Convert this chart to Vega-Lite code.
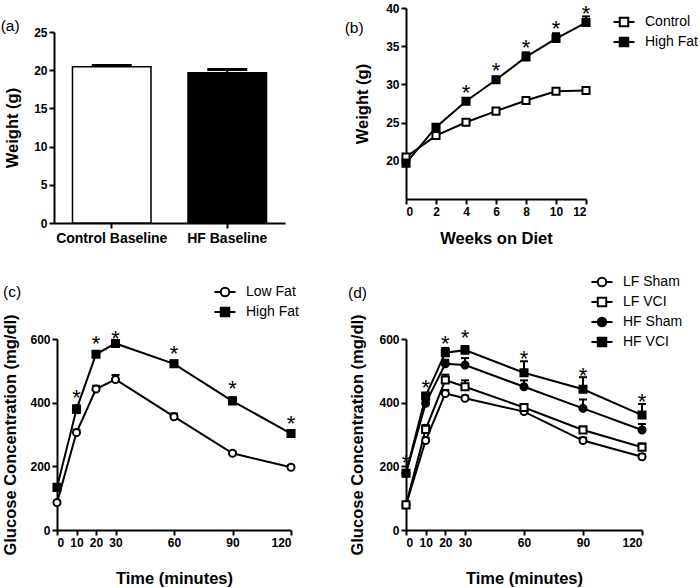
{
  "$schema": "https://vega.github.io/schema/vega-lite/v6.json",
  "background": "white",
  "padding": {"left": 0, "top": 2, "right": 0, "bottom": 0},
  "bounds": "flush",
  "spacing": 349,
  "resolve": {"scale": {"fill": "independent", "shape": "independent", "x": "independent", "y": "independent"}, "legend": {"fill": "independent", "shape": "independent"}},
  "config": {
    "view": {"stroke": null},
    "font": "Liberation Sans",
    "axis": {"domainColor": "black", "domainWidth": 2, "tickColor": "black", "tickWidth": 2, "tickSize": 5, "labelFont": "Liberation Sans", "labelFontSize": 12, "labelFontWeight": "bold", "labelColor": "black", "titleFont": "Liberation Sans", "titleFontSize": 16.5, "titleFontWeight": "bold", "titleColor": "black", "grid": false, "labelPadding": 2},
    "legend": {"labelFont": "Liberation Sans", "labelFontSize": 14, "labelColor": "black", "symbolStrokeColor": "black", "symbolStrokeWidth": 2, "symbolSize": 100, "labelOffset": 14, "rowPadding": 2, "padding": 0, "orient": "none"},
    "title": {"font": "Liberation Sans", "fontSize": 15.5, "fontWeight": "normal", "color": "black", "anchor": "start", "frame": "bounds"}
  },
  "datasets": {
    "bars": [
      {"group": "Control Baseline", "weight": 20.45, "upper": 20.6},
      {"group": "HF Baseline", "weight": 19.65, "upper": 20.1}
    ],
    "weights": [
      {"week": 0, "series": "Control", "weight": 20.5, "upper": 20.7},
      {"week": 2, "series": "Control", "weight": 23.3, "upper": 23.5},
      {"week": 4, "series": "Control", "weight": 25.05, "upper": 25.3},
      {"week": 6, "series": "Control", "weight": 26.5, "upper": 26.7},
      {"week": 8, "series": "Control", "weight": 27.9, "upper": 28.1},
      {"week": 10, "series": "Control", "weight": 29.1, "upper": 29.3},
      {"week": 12, "series": "Control", "weight": 29.2, "upper": 29.4},
      {"week": 0, "series": "High Fat", "weight": 19.7, "upper": 20.0},
      {"week": 2, "series": "High Fat", "weight": 24.4, "upper": 24.8},
      {"week": 4, "series": "High Fat", "weight": 27.8, "upper": 28.2},
      {"week": 6, "series": "High Fat", "weight": 30.6, "upper": 31.0},
      {"week": 8, "series": "High Fat", "weight": 33.6, "upper": 34.2},
      {"week": 10, "series": "High Fat", "weight": 36.0, "upper": 36.7},
      {"week": 12, "series": "High Fat", "weight": 38.1, "upper": 38.9}
    ],
    "starsB": [
      {"week": 4, "y": 29.6}, {"week": 6, "y": 32.5}, {"week": 8, "y": 35.6}, {"week": 10, "y": 38.0}, {"week": 12, "y": 40.0}
    ],
    "gttC": [
      {"time": 0, "series": "Low Fat", "glucose": 86, "upper": 92},
      {"time": 10, "series": "Low Fat", "glucose": 306, "upper": 315},
      {"time": 20, "series": "Low Fat", "glucose": 443, "upper": 453},
      {"time": 30, "series": "Low Fat", "glucose": 473, "upper": 487},
      {"time": 60, "series": "Low Fat", "glucose": 356, "upper": 366},
      {"time": 90, "series": "Low Fat", "glucose": 241, "upper": 247},
      {"time": 120, "series": "Low Fat", "glucose": 197, "upper": 203},
      {"time": 0, "series": "High Fat", "glucose": 134, "upper": 140},
      {"time": 10, "series": "High Fat", "glucose": 379, "upper": 392},
      {"time": 20, "series": "High Fat", "glucose": 552, "upper": 562},
      {"time": 30, "series": "High Fat", "glucose": 586, "upper": 594},
      {"time": 60, "series": "High Fat", "glucose": 522, "upper": 532},
      {"time": 90, "series": "High Fat", "glucose": 405, "upper": 417},
      {"time": 120, "series": "High Fat", "glucose": 303, "upper": 310}
    ],
    "starsC": [
      {"time": 10, "y": 435}, {"time": 20, "y": 602}, {"time": 30, "y": 620}, {"time": 60, "y": 571}, {"time": 90, "y": 461}, {"time": 120, "y": 351}
    ],
    "gttD": [
      {"time": 0, "series": "LF Sham", "glucose": 79, "upper": 84},
      {"time": 10, "series": "LF Sham", "glucose": 281, "upper": 290},
      {"time": 20, "series": "LF Sham", "glucose": 429, "upper": 440},
      {"time": 30, "series": "LF Sham", "glucose": 414, "upper": 422},
      {"time": 60, "series": "LF Sham", "glucose": 372, "upper": 380},
      {"time": 90, "series": "LF Sham", "glucose": 281, "upper": 290},
      {"time": 120, "series": "LF Sham", "glucose": 230, "upper": 238},
      {"time": 0, "series": "LF VCI", "glucose": 79, "upper": 86},
      {"time": 10, "series": "LF VCI", "glucose": 316, "upper": 330},
      {"time": 20, "series": "LF VCI", "glucose": 471, "upper": 488},
      {"time": 30, "series": "LF VCI", "glucose": 450, "upper": 470},
      {"time": 60, "series": "LF VCI", "glucose": 385, "upper": 393},
      {"time": 90, "series": "LF VCI", "glucose": 314, "upper": 325},
      {"time": 120, "series": "LF VCI", "glucose": 260, "upper": 272},
      {"time": 0, "series": "HF Sham", "glucose": 178, "upper": 188},
      {"time": 10, "series": "HF Sham", "glucose": 398, "upper": 410},
      {"time": 20, "series": "HF Sham", "glucose": 522, "upper": 535},
      {"time": 30, "series": "HF Sham", "glucose": 518, "upper": 540},
      {"time": 60, "series": "HF Sham", "glucose": 450, "upper": 470},
      {"time": 90, "series": "HF Sham", "glucose": 382, "upper": 410},
      {"time": 120, "series": "HF Sham", "glucose": 314, "upper": 333},
      {"time": 0, "series": "HF VCI", "glucose": 178, "upper": 188},
      {"time": 10, "series": "HF VCI", "glucose": 421, "upper": 430},
      {"time": 20, "series": "HF VCI", "glucose": 557, "upper": 572},
      {"time": 30, "series": "HF VCI", "glucose": 565, "upper": 578},
      {"time": 60, "series": "HF VCI", "glucose": 494, "upper": 530},
      {"time": 90, "series": "HF VCI", "glucose": 442, "upper": 480},
      {"time": 120, "series": "HF VCI", "glucose": 361, "upper": 396}
    ],
    "starsD": [
      {"time": 0, "y": 230}, {"time": 10, "y": 466}, {"time": 20, "y": 602}, {"time": 30, "y": 623}, {"time": 60, "y": 555}, {"time": 90, "y": 503}, {"time": 120, "y": 421}
    ]
  },
  "hconcat": [
    {
      "bounds": "flush",
      "spacing": 116,
      "resolve": {"scale": {"fill": "independent", "shape": "independent", "x": "independent", "y": "independent"}, "legend": {"fill": "independent", "shape": "independent"}},
      "vconcat": [
        {
          "title": {"text": "(a)", "offset": -26, "dx": -4},
          "width": 231,
          "height": 215,
          "data": {"name": "bars"},
          "encoding": {
            "x": {"field": "group", "type": "nominal", "sort": null, "scale": {"paddingInner": 0.32, "paddingOuter": 0.16, "range": [-3, 228]}, "axis": {"title": null, "labelAngle": 0, "labelFontSize": 14, "labelPadding": 3}}
          },
          "layer": [
            {
              "mark": {"type": "bar", "stroke": "black", "strokeWidth": 1.5},
              "encoding": {
                "y": {"field": "weight", "type": "quantitative", "scale": {"domain": [0, 25], "range": [215, 24], "nice": false, "zero": true}, "axis": {"title": "Weight (g)", "values": [0, 5, 10, 15, 20, 25], "titlePadding": 13, "offset": 3}},
                "fill": {"field": "group", "type": "nominal", "scale": {"domain": ["Control Baseline", "HF Baseline"], "range": ["white", "black"]}, "legend": null}
              }
            },
            {
              "mark": {"type": "rule", "color": "black", "strokeWidth": 2},
              "encoding": {"y": {"field": "weight", "type": "quantitative"}, "y2": {"field": "upper"}}
            },
            {
              "mark": {"type": "tick", "orient": "horizontal", "color": "black", "size": 40, "thickness": 3, "opacity": 1},
              "encoding": {"y": {"field": "upper", "type": "quantitative"}}
            }
          ]
        },
        {
          "title": {"text": "(c)", "offset": -15, "dx": 0},
          "width": 234,
          "height": 191,
          "data": {"name": "gttC"},
          "encoding": {
            "x": {"field": "time", "type": "quantitative", "scale": {"domain": [0, 120], "nice": false}, "axis": {"title": "Time (minutes)", "values": [0, 10, 20, 30, 60, 90, 120], "titlePadding": 22}}
          },
          "layer": [
            {
              "mark": {"type": "rule", "color": "black", "strokeWidth": 2},
              "encoding": {"y": {"field": "glucose", "type": "quantitative", "scale": {"domain": [0, 600], "nice": false}, "axis": {"title": "Glucose Concentration (mg/dl)", "values": [0, 200, 400, 600], "titlePadding": 11}}, "y2": {"field": "upper"}}
            },
            {
              "mark": {"type": "tick", "orient": "horizontal", "color": "black", "size": 8, "thickness": 2, "opacity": 1},
              "encoding": {"y": {"field": "upper", "type": "quantitative"}}
            },
            {
              "mark": {"type": "line", "color": "black", "strokeWidth": 2},
              "encoding": {"y": {"field": "glucose", "type": "quantitative"}, "detail": {"field": "series"}}
            },
            {
              "transform": [{"filter": {"field": "series", "oneOf": ["Low Fat"]}}],
              "mark": {"type": "point", "shape": "circle", "filled": true, "stroke": "black", "strokeWidth": 2, "size": 50, "opacity": 1},
              "encoding": {
                "y": {"field": "glucose", "type": "quantitative"},
                "fill": {"field": "series", "type": "nominal", "scale": {"domain": ["Low Fat", "High Fat"], "range": ["white", "black"]},
                  "legend": {"title": null, "legendX": 161, "legendY": -54,
                    "symbolType": {"expr": "datum.value === 'Low Fat' ? 'M-2.1,0H-0.85M0.85,0H2.1M0.85,0A0.85,0.85 0 1,1 -0.85,0A0.85,0.85 0 1,1 0.85,0Z' : 'M-2.1,0H-0.85M0.85,0H2.1M-0.85,-0.85H0.85V0.85H-0.85Z'"}}
                }
              }
            },
            {
              "transform": [{"filter": {"field": "series", "oneOf": ["High Fat"]}}],
              "mark": {"type": "point", "shape": "square", "filled": true, "stroke": "black", "strokeWidth": 2, "size": 50, "opacity": 1},
              "encoding": {
                "y": {"field": "glucose", "type": "quantitative"},
                "fill": {"field": "series", "type": "nominal", "scale": {"domain": ["Low Fat", "High Fat"], "range": ["white", "black"]},
                  "legend": {"title": null, "legendX": 161, "legendY": -54,
                    "symbolType": {"expr": "datum.value === 'Low Fat' ? 'M-2.1,0H-0.85M0.85,0H2.1M0.85,0A0.85,0.85 0 1,1 -0.85,0A0.85,0.85 0 1,1 0.85,0Z' : 'M-2.1,0H-0.85M0.85,0H2.1M-0.85,-0.85H0.85V0.85H-0.85Z'"}}
                }
              }
            },
            {
              "data": {"name": "starsC"},
              "mark": {"type": "text", "text": "*", "fontSize": 22, "color": "black", "baseline": "middle", "dy": 6},
              "encoding": {"y": {"field": "y", "type": "quantitative"}}
            }
          ]
        }
      ]
    },
    {
      "bounds": "flush",
      "spacing": 140,
      "resolve": {"scale": {"fill": "independent", "shape": "independent", "x": "independent", "y": "independent"}, "legend": {"fill": "independent", "shape": "independent"}},
      "vconcat": [
        {
          "title": {"text": "(b)", "offset": -34, "dx": -10},
          "width": 180,
          "height": 191,
          "data": {"name": "weights"},
          "encoding": {
            "x": {"field": "week", "type": "quantitative", "scale": {"domain": [0, 12], "nice": false}, "axis": {"title": "Weeks on Diet", "values": [0, 2, 4, 6, 8, 10, 12], "titlePadding": 13}}
          },
          "layer": [
            {
              "mark": {"type": "rule", "color": "black", "strokeWidth": 2},
              "encoding": {"y": {"field": "weight", "type": "quantitative", "scale": {"domain": [15, 40], "nice": false, "zero": false}, "axis": {"title": "Weight (g)", "values": [20, 25, 30, 35, 40], "titlePadding": 15}}, "y2": {"field": "upper"}}
            },
            {
              "mark": {"type": "tick", "orient": "horizontal", "color": "black", "size": 8, "thickness": 2, "opacity": 1},
              "encoding": {"y": {"field": "upper", "type": "quantitative"}}
            },
            {
              "mark": {"type": "line", "color": "black", "strokeWidth": 2},
              "encoding": {"y": {"field": "weight", "type": "quantitative"}, "detail": {"field": "series"}}
            },
            {
              "mark": {"type": "point", "shape": "square", "filled": true, "stroke": "black", "strokeWidth": 2, "size": 50, "opacity": 1},
              "encoding": {
                "y": {"field": "weight", "type": "quantitative"},
                "fill": {"field": "series", "type": "nominal", "scale": {"domain": ["Control", "High Fat"], "range": ["white", "black"]},
                  "legend": {"title": null, "legendX": 211, "legendY": 7, "symbolType": "M-2.1,0H-0.85M0.85,0H2.1M-0.85,-0.85H0.85V0.85H-0.85Z"}}
              }
            },
            {
              "data": {"name": "starsB"},
              "mark": {"type": "text", "text": "*", "fontSize": 22, "color": "black", "baseline": "middle", "dy": 6},
              "encoding": {"y": {"field": "y", "type": "quantitative"}}
            }
          ]
        },
        {
          "title": {"text": "(d)", "offset": -26, "dx": -2},
          "width": 236,
          "height": 191,
          "data": {"name": "gttD"},
          "encoding": {
            "x": {"field": "time", "type": "quantitative", "scale": {"domain": [0, 120], "nice": false}, "axis": {"title": "Time (minutes)", "values": [0, 10, 20, 30, 60, 90, 120], "titlePadding": 22}}
          },
          "layer": [
            {
              "mark": {"type": "rule", "color": "black", "strokeWidth": 2},
              "encoding": {"y": {"field": "glucose", "type": "quantitative", "scale": {"domain": [0, 600], "nice": false}, "axis": {"title": "Glucose Concentration (mg/dl)", "values": [0, 200, 400, 600], "titlePadding": 13}}, "y2": {"field": "upper"}}
            },
            {
              "mark": {"type": "tick", "orient": "horizontal", "color": "black", "size": 8, "thickness": 2, "opacity": 1},
              "encoding": {"y": {"field": "upper", "type": "quantitative"}}
            },
            {
              "mark": {"type": "line", "color": "black", "strokeWidth": 2},
              "encoding": {"y": {"field": "glucose", "type": "quantitative"}, "detail": {"field": "series"}}
            },
            {
              "transform": [{"filter": {"field": "series", "oneOf": ["LF Sham", "HF Sham"]}}],
              "mark": {"type": "point", "shape": "circle", "filled": true, "stroke": "black", "strokeWidth": 2, "size": 50, "opacity": 1},
              "encoding": {
                "y": {"field": "glucose", "type": "quantitative"},
                "fill": {"field": "series", "type": "nominal", "scale": {"domain": ["LF Sham", "LF VCI", "HF Sham", "HF VCI"], "range": ["white", "white", "black", "black"]},
                  "legend": {"title": null, "legendX": 189, "legendY": -64,
                    "symbolType": {"expr": "(datum.value === 'LF Sham' || datum.value === 'HF Sham') ? 'M-2.1,0H-0.85M0.85,0H2.1M0.85,0A0.85,0.85 0 1,1 -0.85,0A0.85,0.85 0 1,1 0.85,0Z' : 'M-2.1,0H-0.85M0.85,0H2.1M-0.85,-0.85H0.85V0.85H-0.85Z'"}}
                }
              }
            },
            {
              "transform": [{"filter": {"field": "series", "oneOf": ["LF VCI", "HF VCI"]}}],
              "mark": {"type": "point", "shape": "square", "filled": true, "stroke": "black", "strokeWidth": 2, "size": 50, "opacity": 1},
              "encoding": {
                "y": {"field": "glucose", "type": "quantitative"},
                "fill": {"field": "series", "type": "nominal", "scale": {"domain": ["LF Sham", "LF VCI", "HF Sham", "HF VCI"], "range": ["white", "white", "black", "black"]},
                  "legend": {"title": null, "legendX": 189, "legendY": -64,
                    "symbolType": {"expr": "(datum.value === 'LF Sham' || datum.value === 'HF Sham') ? 'M-2.1,0H-0.85M0.85,0H2.1M0.85,0A0.85,0.85 0 1,1 -0.85,0A0.85,0.85 0 1,1 0.85,0Z' : 'M-2.1,0H-0.85M0.85,0H2.1M-0.85,-0.85H0.85V0.85H-0.85Z'"}}
                }
              }
            },
            {
              "data": {"name": "starsD"},
              "mark": {"type": "text", "text": "*", "fontSize": 22, "color": "black", "baseline": "middle", "dy": 6},
              "encoding": {"y": {"field": "y", "type": "quantitative"}}
            }
          ]
        }
      ]
    }
  ]
}
